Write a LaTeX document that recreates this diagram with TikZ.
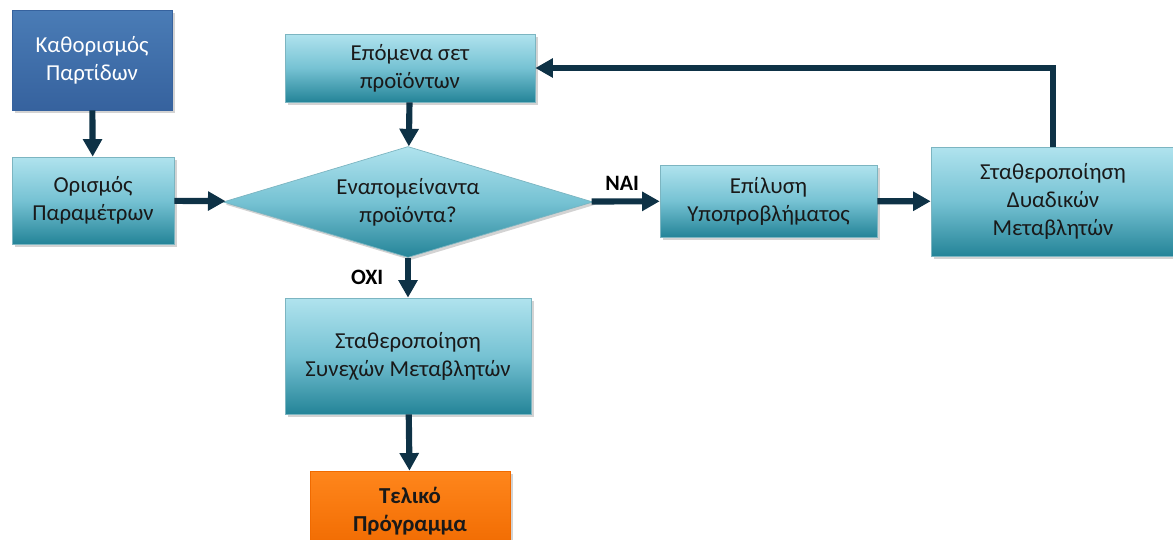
\documentclass[tikz,border=0pt]{standalone}
\usepackage{fontspec}
\setmainfont{Carlito}
\usetikzlibrary{shapes.geometric}
\usetikzlibrary{arrows.meta}
\usetikzlibrary{shadows}

\definecolor{boxtop}{RGB}{176,227,238}
\definecolor{boxmid}{RGB}{118,194,211}
\definecolor{boxbot}{RGB}{36,132,152}
\definecolor{darktop}{RGB}{74,124,182}
\definecolor{darkbot}{RGB}{54,98,158}
\definecolor{finaltop}{RGB}{255,134,28}
\definecolor{finalbot}{RGB}{240,106,0}
\definecolor{arrcol}{RGB}{14,50,70}

\tikzset{
  stage/.style={rectangle, draw=boxbot!60!white, line width=0.4pt,
    top color=boxtop, bottom color=boxbot, middle color=boxmid,
    align=center, text=black!90, font=\fontsize{13}{16}\selectfont,
    drop shadow={shadow xshift=1.5pt, shadow yshift=-1.5pt, opacity=0.35}},
  darkstage/.style={stage, draw=darkbot, top color=darktop, bottom color=darkbot,
    middle color=darktop!50!darkbot, text=white},
  finalstage/.style={stage, draw=finalbot, top color=finaltop, bottom color=finalbot,
    middle color=finaltop!50!finalbot, font=\fontsize{13}{16}\selectfont\bfseries},
  decision/.style={stage, diamond, aspect=3.33, inner sep=0pt},
  flow/.style={draw=arrcol, line width=3.5pt, -{Triangle[length=10pt,width=10.5pt]}},
  answer/.style={font=\fontsize{12.5}{14}\selectfont\bfseries, text=black}
}

\begin{document}
\begin{tikzpicture}[x=0.02cm, y=-0.02cm]
  \useasboundingbox (0,0) rectangle (1173,540);
  % boxes
  \node[darkstage, minimum width=3.2cm, minimum height=2cm] (batch) at (92,60)
    {Καθορισμός\\Παρτίδων};
  \node[stage, minimum width=3.24cm, minimum height=1.74cm] (param) at (93,200.5)
    {Ορισμός\\Παραμέτρων};
  \node[stage, minimum width=5cm, minimum height=1.36cm] (next) at (410,68)
    {Επόμενα σετ\\προϊόντων};
  \node[decision, minimum width=7.4cm, minimum height=2.22cm] (remain) at (408,202)
    {Εναπομείναντα\\προϊόντα?};
  \node[stage, minimum width=4.34cm, minimum height=1.44cm] (solve) at (768.5,201)
    {Επίλυση\\Υποπροβλήματος};
  \node[stage, minimum width=4.88cm, minimum height=2.18cm] (binfix) at (1053,201.5)
    {Σταθεροποίηση\\Δυαδικών\\Μεταβλητών};
  \node[stage, minimum width=4.92cm, minimum height=2.32cm] (contfix) at (408,356)
    {Σταθεροποίηση\\Συνεχών Μεταβλητών};
  \node[finalstage, minimum width=4cm, minimum height=1.6cm] (final) at (410,511)
    {Τελικό\\Πρόγραμμα};
  % arrows
  \draw[flow] (batch) -- (param);
  \draw[flow] (param) -- (remain);
  \draw[flow] (next) -- (remain);
  \draw[flow] (remain) -- node[answer, above=1pt, pos=0.45] {ΝΑΙ} (solve);
  \draw[flow] (solve) -- (binfix);
  \draw[flow] (binfix.north) |- (next.east);
  \draw[flow] (remain) -- node[answer, left=9pt, pos=0.5] {ΟΧΙ} (contfix);
  \draw[flow] (contfix) -- (final);
\end{tikzpicture}
\end{document}
